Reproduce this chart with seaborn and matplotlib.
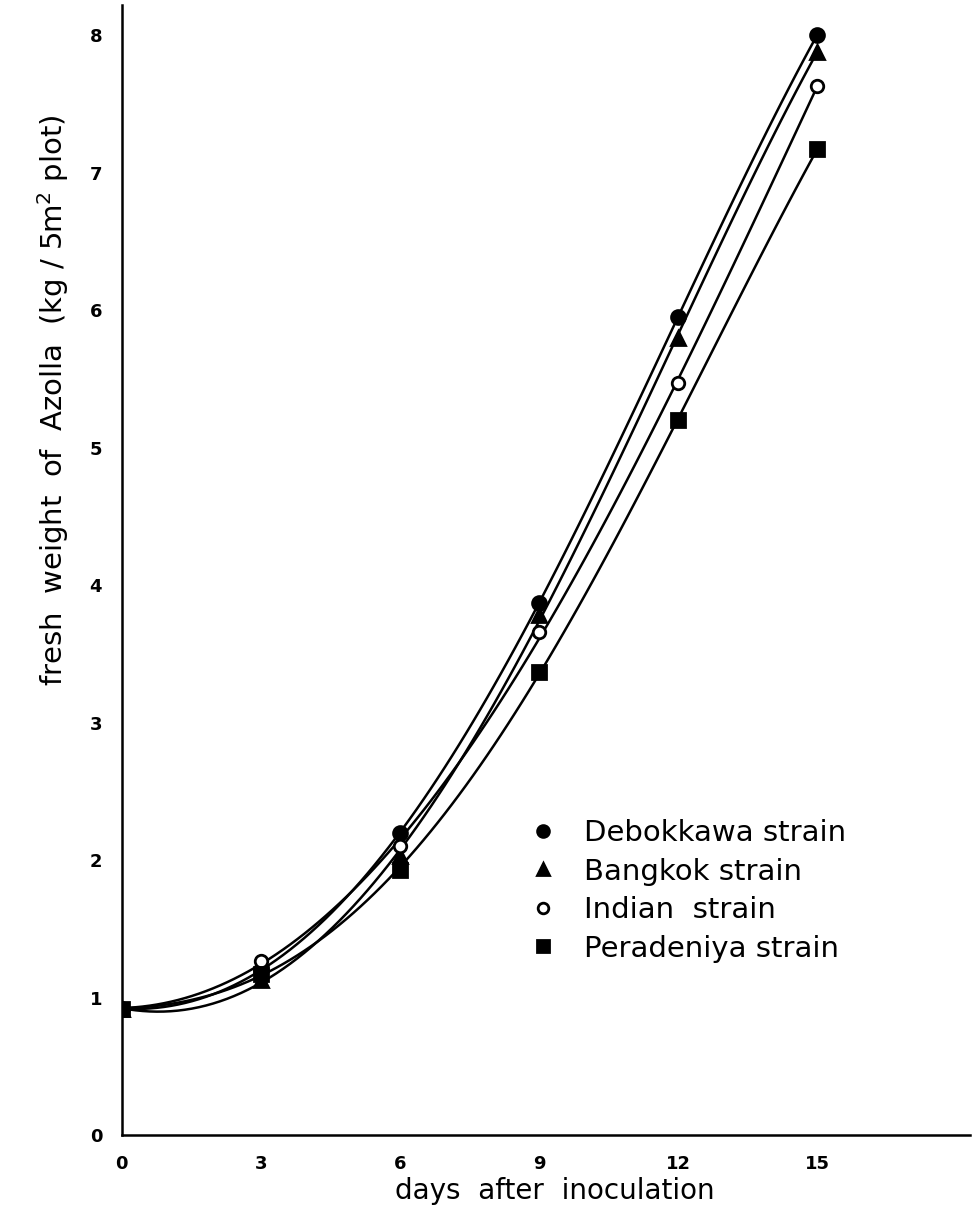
"""
Growth of four Azolla strains -- fresh weight over 15 days after inoculation
"""
import numpy as np
import pandas as pd
import matplotlib
matplotlib.use("Agg")
import matplotlib.pyplot as plt
import seaborn as sns

# ================================================================================
# Data
# ================================================================================
days        = [0, 3, 6, 9, 12, 15]
debokkawa   = [0.92, 1.20, 2.20, 3.87, 5.95, 8.00]
bangkok     = [0.92, 1.13, 2.03, 3.78, 5.80, 7.88]
indian      = [0.92, 1.27, 2.10, 3.66, 5.47, 7.63]
peradeniya  = [0.92, 1.17, 1.93, 3.37, 5.20, 7.17]
strains     = ["Debokkawa strain", "Bangkok strain", "Indian  strain", "Peradeniya strain"]
x_ticks     = [0, 3, 6, 9, 12, 15]
y_ticks     = [0, 1, 2, 3, 4, 5, 6, 7, 8]

df = pd.DataFrame({
    "days"  : days * 4,
    "weight": debokkawa + bangkok + indian + peradeniya,
    "strain": np.repeat(strains, len(days)),
})

# marker style per strain: (marker, face colour, size)
styles = {
    strains[0]: ("o", "black", 10),
    strains[1]: ("^", "black", 10),
    strains[2]: ("o", "white", 9),
    strains[3]: ("s", "black", 10),
}

sns.set_style("white")
plt.rcParams["font.family"] = ["DejaVu Sans"]
plt.rcParams["text.color"]  = "black"

fig = plt.figure(figsize=(9.73, 12.26), dpi=100)
ax  = fig.add_axes([0.125, 0.074, 0.872, 0.922])

# smooth curves (polynomial fit from seaborn), then the markers on top
for name in strains:
    sub = df[df["strain"] == name]
    sns.regplot(data=sub, x="days", y="weight", order=4, ci=None, scatter=False,
                truncate=True, line_kws={"color": "black", "lw": 1.8}, ax=ax)

for name in strains:
    sub = df[df["strain"] == name]
    mk, fc, ms = styles[name]
    ax.plot(sub["days"], sub["weight"], ls="none", marker=mk, ms=ms,
            mfc=fc, mec="black", mew=2, zorder=5, label=name)

ax.set_xlim(0, 18.3)
ax.set_ylim(0, 8.22)
ax.set_xticks(x_ticks)
ax.set_yticks(y_ticks)
ax.tick_params(direction="in", length=11, width=1.2, colors="black", labelsize=13)
ax.tick_params(axis="x", pad=14)
ax.tick_params(axis="y", pad=14)
for lab in ax.get_xticklabels() + ax.get_yticklabels():
    lab.set_fontweight("bold")
    lab.set_family(["Liberation Sans Narrow", "DejaVu Sans"])

for side in ["top", "right"]:
    ax.spines[side].set_visible(False)
for side in ["left", "bottom"]:
    ax.spines[side].set_color("black")
    ax.spines[side].set_linewidth(1.8)

ax.set_xlabel("days  after  inoculation", fontsize=20, color="black")
ax.xaxis.set_label_coords(0.51, -0.037)
ax.set_ylabel("fresh  weight  of  Azolla  (kg / 5m$^{2}$ plot)", fontsize=21, color="black")
ax.yaxis.set_label_coords(-0.06, 0.65)

leg = ax.legend(loc="upper left", bbox_to_anchor=(0.445, 0.303), frameon=False,
                fontsize=21, handletextpad=0.8, labelspacing=0.36, handlelength=1.2,
                markerscale=0.85)
for t in leg.get_texts():
    t.set_color("black")

fig.savefig("out.png", dpi=100)
